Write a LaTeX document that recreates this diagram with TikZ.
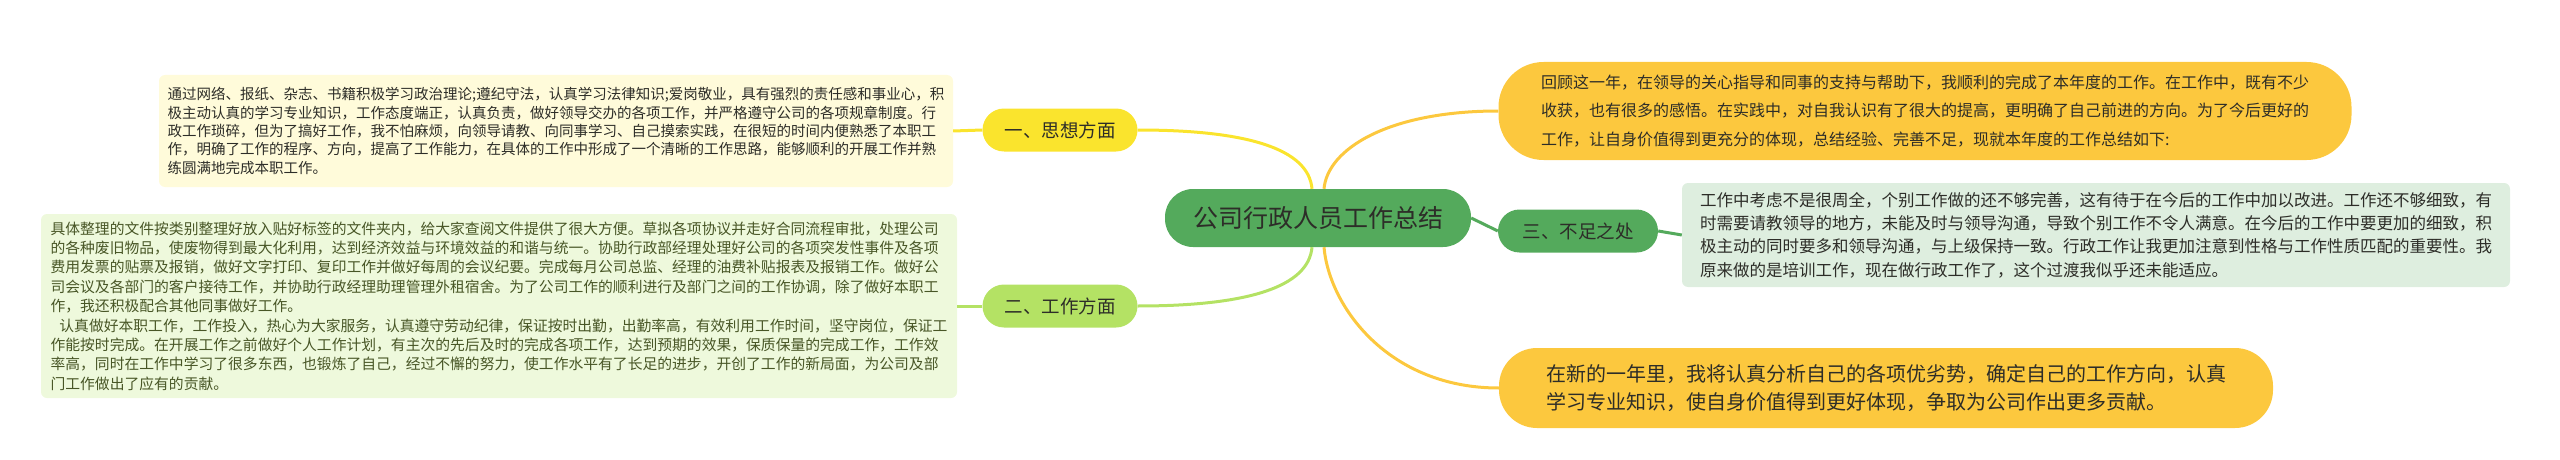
\documentclass[tikz,border=0pt]{standalone}
\usepackage{fontspec}
\setmainfont{Noto Sans CJK SC}
\definecolor{verde}{RGB}{84,170,92}
\definecolor{verdechiaro}{RGB}{180,226,100}
\definecolor{giallo}{RGB}{250,228,45}
\definecolor{arancio}{RGB}{252,200,62}
\definecolor{fondogiallo}{RGB}{255,251,218}
\definecolor{fondoverde}{RGB}{238,249,220}
\definecolor{fondogrigio}{RGB}{222,238,223}
\definecolor{testo}{RGB}{45,45,40}
\definecolor{testooliva}{RGB}{72,86,38}
\begin{document}
\begin{tikzpicture}[x=1pt,y=-1pt,
    ramo/.style={rounded corners=21.5pt,minimum width=155pt,minimum height=43pt,inner sep=0pt,font=\fontsize{18.5}{22}\selectfont,text=testo},
    nota/.style={rounded corners=6pt,inner sep=0pt,align=left,font=\fontsize{14.5}{18.3}\selectfont,text=testo},
    bolla/.style={fill=arancio,inner sep=0pt,align=left,text=testo},
    filo/.style={line width=3pt}]
    \useasboundingbox(0,0)rectangle(2560,460);

    %nodo centrale
    \node[fill=verde,rounded corners=28pt,minimum width=306pt,minimum height=58pt,inner sep=0pt,font=\fontsize{25}{30}\selectfont,text=testo](radice)at(1318,218){公司行政人员工作总结};
    %rami a sinistra
    \node[ramo,fill=giallo](pensiero)at(1060,130){一、思想方面};
    \node[ramo,fill=verdechiaro](lavoro)at(1060,306){二、工作方面};
    %rami a destra
    \node[ramo,fill=verde,minimum width=160pt](limiti)at(1578,231){三、不足之处};

    %testi lunghi
    \node[nota,fill=fondogiallo,minimum width=794pt,minimum height=112pt](pensierotxt)at(556,131){%
通过网络、报纸、杂志、书籍积极学习政治理论;遵纪守法，认真学习法律知识;爱岗敬业，具有强烈的责任感和事业心，积\\
极主动认真的学习专业知识，工作态度端正，认真负责，做好领导交办的各项工作，并严格遵守公司的各项规章制度。行\\
政工作琐碎，但为了搞好工作，我不怕麻烦，向领导请教、向同事学习、自己摸索实践，在很短的时间内便熟悉了本职工\\
作，明确了工作的程序、方向，提高了工作能力，在具体的工作中形成了一个清晰的工作思路，能够顺利的开展工作并熟\\
练圆满地完成本职工作。};
    \node[nota,fill=fondoverde,text=testooliva,minimum width=916pt,minimum height=184pt,font=\fontsize{14.8}{19.4}\selectfont](lavorotxt)at(499,306){%
具体整理的文件按类别整理好放入贴好标签的文件夹内，给大家查阅文件提供了很大方便。草拟各项协议并走好合同流程审批，处理公司\\
的各种废旧物品，使废物得到最大化利用，达到经济效益与环境效益的和谐与统一。协助行政部经理处理好公司的各项突发性事件及各项\\
费用发票的贴票及报销，做好文字打印、复印工作并做好每周的会议纪要。完成每月公司总监、经理的油费补贴报表及报销工作。做好公\\
司会议及各部门的客户接待工作，并协助行政经理助理管理外租宿舍。为了公司工作的顺利进行及部门之间的工作协调，除了做好本职工\\
作，我还积极配合其他同事做好工作。\\
\hspace*{0.6em}认真做好本职工作，工作投入，热心为大家服务，认真遵守劳动纪律，保证按时出勤，出勤率高，有效利用工作时间，坚守岗位，保证工\\
作能按时完成。在开展工作之前做好个人工作计划，有主次的先后及时的完成各项工作，达到预期的效果，保质保量的完成工作，工作效\\
率高，同时在工作中学习了很多东西，也锻炼了自己，经过不懈的努力，使工作水平有了长足的进步，开创了工作的新局面，为公司及部\\
门工作做出了应有的贡献。};
    \node[nota,fill=fondogrigio,minimum width=828pt,minimum height=104pt,font=\fontsize{16.5}{23.4}\selectfont](limititxt)at(2096,235){%
工作中考虑不是很周全，个别工作做的还不够完善，这有待于在今后的工作中加以改进。工作还不够细致，有\\
时需要请教领导的地方，未能及时与领导沟通，导致个别工作不令人满意。在今后的工作中要更加的细致，积\\
极主动的同时要多和领导沟通，与上级保持一致。行政工作让我更加注意到性格与工作性质匹配的重要性。我\\
原来做的是培训工作，现在做行政工作了，这个过渡我似乎还未能适应。};
    %bolle arancioni
    \node[bolla,rounded corners=45pt,minimum width=853pt,minimum height=98pt,font=\fontsize{16}{28.6}\selectfont](intro)at(1925,111){%
回顾这一年，在领导的关心指导和同事的支持与帮助下，我顺利的完成了本年度的工作。在工作中，既有不少\\
收获，也有很多的感悟。在实践中，对自我认识有了很大的提高，更明确了自己前进的方向。为了今后更好的\\
工作，让自身价值得到更充分的体现，总结经验、完善不足，现就本年度的工作总结如下:};
    \node[bolla,rounded corners=38pt,minimum width=774pt,minimum height=80pt,font=\fontsize{20}{28}\selectfont](piano)at(1886,388){%
在新的一年里，我将认真分析自己的各项优劣势，确定自己的工作方向，认真\\
学习专业知识，使自身价值得到更好体现，争取为公司作出更多贡献。};

    %collegamenti
    \draw[filo,giallo]([xshift=-6pt]radice.north)to[out=95,in=0,out distance=40pt,in distance=110pt](pensiero.east);
    \draw[filo,verdechiaro]([xshift=-6pt]radice.south)to[out=265,in=0,out distance=40pt,in distance=110pt](lavoro.east);
    \draw[filo,arancio]([xshift=6pt]radice.north)to[out=85,in=180,out distance=40pt,in distance=110pt](intro.west);
    \draw[filo,arancio]([xshift=6pt]radice.south)to[out=275,in=180,out distance=60pt,in distance=110pt](piano.west);
    \draw[filo,verde](radice.east)--(limiti.west);
    \draw[filo,giallo](pensiero.west)--(pensierotxt.east);
    \draw[filo,verdechiaro](lavoro.west)--(lavorotxt.east);
    \draw[filo,verde](limiti.east)--(limititxt.west);
\end{tikzpicture}
\end{document}
